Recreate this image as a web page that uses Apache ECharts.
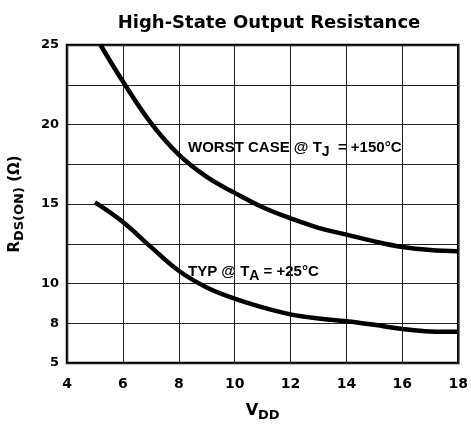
<!DOCTYPE html>
<html>
<head>
<meta charset="utf-8">
<script src="https://cdn.jsdelivr.net/npm/echarts@6/dist/echarts.min.js"></script>
<style>
  html, body { margin: 0; padding: 0; background: #fff; }
  #chart { width: 471px; height: 427px; }
</style>
</head>
<body>
<div id="chart"></div>
<script>
// values
var vdd = [5.2, 6, 7, 8, 9, 10, 11, 12, 13, 14, 15, 16, 17, 18]
var worstCase = [25, 22.7, 20.1, 18.1, 16.7, 15.7, 14.8, 14.1, 13.5, 13.07, 12.65, 12.3, 12.1, 12.03]
var typVdd = [5, 6, 7, 8, 9, 10, 11, 12, 13, 14, 15, 16, 17, 18]
var typ = [15.1, 13.87, 12.3, 10.8, 9.75, 9.05, 8.5, 8.06, 7.8, 7.63, 7.4, 7.14, 6.98, 6.96]
var yTickValues = [5, 7.5, 10, 15, 20, 25]
var yTickLabels = ['5', '8', '10', '15', '20', '25']

function pairs (xs, ys) {
  return xs.map(function (x, i) { return [x, ys[i]] })
}

var chart = echarts.init(document.getElementById('chart'))
var wide = 'DejaVu Sans, sans-serif'
var narrow = 'Liberation Sans, Arial, sans-serif'

chart.setOption({
  animation: false,
  title: {
    text: 'High-State Output Resistance',
    left: 264,
    top: 9,
    textAlign: 'center',
    textStyle: { fontFamily: wide, fontWeight: 'bold', fontSize: 18, color: '#000' }
  },
  grid: {
    left: 63, right: 9, top: 45, bottom: 55,
    show: true,
    borderColor: '#000',
    borderWidth: 2.5
  },
  xAxis: {
    type: 'value',
    min: 4, max: 18, interval: 2,
    name: 'V{sub|DD}',
    nameLocation: 'middle',
    nameGap: 37,
    nameTextStyle: {
      fontFamily: wide, fontWeight: 'bold', fontSize: 16, color: '#000',
      rich: { sub: { fontFamily: wide, fontWeight: 'bold', fontSize: 13, color: '#000', verticalAlign: 'bottom', padding: [9, 0, 0, 0] } }
    },
    axisLine: { show: false },
    axisTick: { show: false },
    axisLabel: { fontFamily: wide, fontWeight: 'bold', fontSize: 14, color: '#000', margin: 14 },
    splitLine: { lineStyle: { color: '#222', width: 1 } }
  },
  yAxis: {
    type: 'value',
    min: 5, max: 25, interval: 2.5,
    name: 'R{sub|DS(ON)} (Ω)',
    nameLocation: 'middle',
    nameRotate: 90,
    nameGap: 41,
    nameTextStyle: {
      fontFamily: wide, fontWeight: 'bold', fontSize: 15, color: '#000',
      rich: { sub: { fontFamily: wide, fontWeight: 'bold', fontSize: 13, color: '#000', verticalAlign: 'bottom', padding: [8, 0, 0, 0] } }
    },
    axisLine: { show: false },
    axisTick: { show: false },
    axisLabel: {
      fontFamily: wide, fontWeight: 'bold', fontSize: 13, color: '#000', margin: 8,
      formatter: function (v) {
        var i = yTickValues.indexOf(v)
        return i >= 0 ? yTickLabels[i] : ''
      }
    },
    splitLine: { lineStyle: { color: '#222', width: 1 } }
  },
  series: [
    {
      name: 'WORST CASE',
      type: 'line',
      smooth: 0.4,
      symbol: 'none',
      lineStyle: { color: '#000', width: 4.5 },
      data: pairs(vdd, worstCase)
    },
    {
      name: 'TYP',
      type: 'line',
      smooth: 0.4,
      symbol: 'none',
      lineStyle: { color: '#000', width: 4.5 },
      data: pairs(typVdd, typ)
    }
  ],
  graphic: [
    {
      type: 'text',
      left: 188, top: 140,
      style: {
        text: 'WORST CASE @ T{sub|J}  = +150°C',
        font: 'bold 15px ' + narrow,
        fill: '#000',
        rich: { sub: { font: 'bold 14px ' + narrow, fill: '#000', padding: [10, 0, 0, 0] } }
      }
    },
    {
      type: 'text',
      left: 188, top: 264,
      style: {
        text: 'TYP @ T{sub|A} = +25°C',
        font: 'bold 15px ' + narrow,
        fill: '#000',
        rich: { sub: { font: 'bold 14px ' + narrow, fill: '#000', padding: [10, 0, 0, 0] } }
      }
    }
  ]
})
</script>
</body>
</html>
